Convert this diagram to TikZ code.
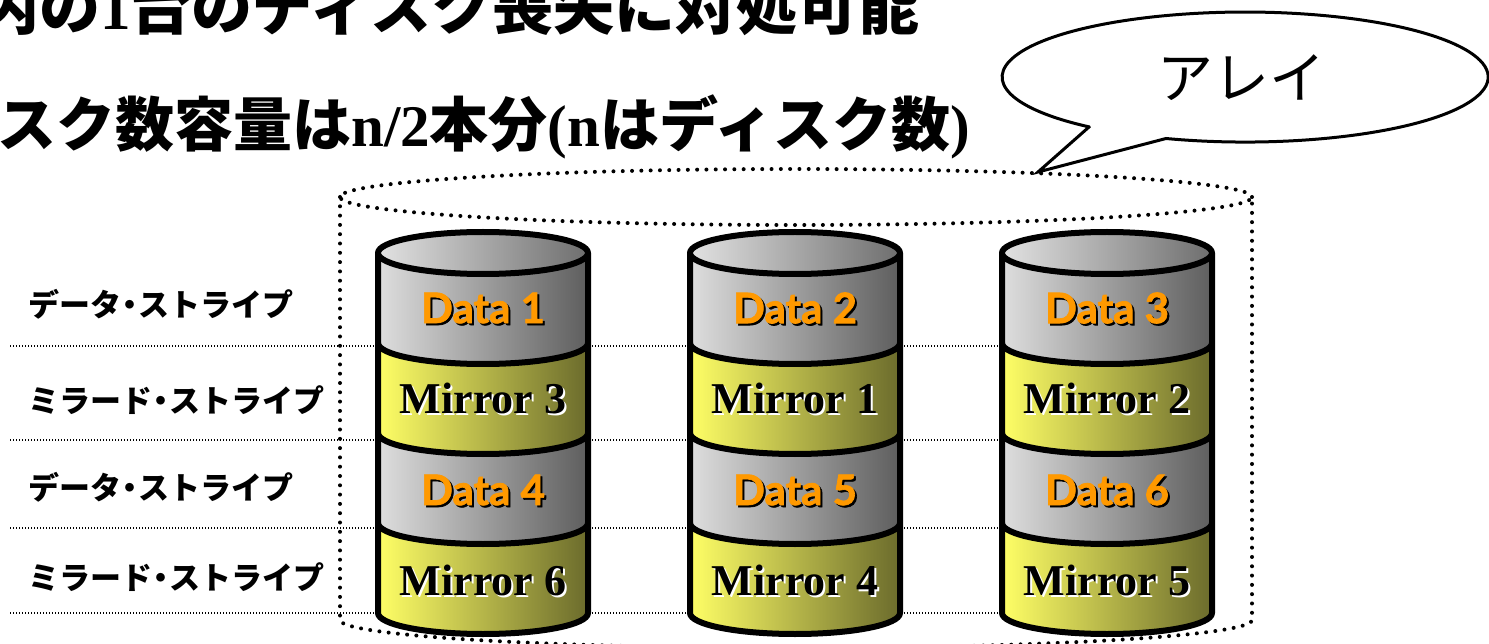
\documentclass[tikz,border=0pt]{standalone}
\usepackage{fontspec}
\newfontfamily\jp{Noto Sans CJK JP}
\newfontfamily\tms{Liberation Serif}
\newfontfamily\gill{Lato}[BoldFeatures={FakeBold=1.6}]
\definecolor{grayL}{HTML}{DEDEDE}
\definecolor{grayR}{HTML}{5E5E5E}
\definecolor{capL}{HTML}{E2E2E2}
\definecolor{capR}{HTML}{6E6E6E}
\definecolor{yelL}{HTML}{FFFF66}
\definecolor{yelM}{HTML}{D4D44E}
\definecolor{yelR}{HTML}{6B6B2C}
\definecolor{dataOrange}{HTML}{FF9900}
\newcommand\nakaguro{\kern-0.22em・\kern-0.22em}
\tikzset{
  graypart/.style={left color=grayL, right color=grayR},
  yelpart/.style={left color=yelL, middle color=yelM, right color=yelR},
  diskline/.style={line width=6pt, line join=round},
  bigdots/.style={line width=4pt, line cap=round, dash pattern=on 0pt off 9.3pt},
  finedots/.style={line width=1.2pt, dash pattern=on 1.2pt off 1.8pt},
  headtext/.style={inner sep=0pt, font=\jp\bfseries\fontsize{59}{64}\selectfont},
  rowlabel/.style={inner sep=0pt, anchor=west, font=\jp\bfseries\fontsize{31}{34}\selectfont},
  datatext/.style={inner sep=0pt, font=\gill\bfseries\fontsize{42}{46}\selectfont},
  mirrortext/.style={inner sep=0pt, font=\tms\bfseries\fontsize{44}{48}\selectfont},
}
\begin{document}
\begin{tikzpicture}[x=1pt, y=1pt]
\clip (0,0) rectangle (1489,-644);

% headline, running off the top and left edges
\node[headtext, anchor=base west, font=\jp\bfseries\fontsize{61}{64}\selectfont] (head1) at (-22,-30)
  {内の{\tms\bfseries 1}台のディスク喪失に対処可能};
\node[headtext, anchor=base west] (head2) at (-3,-147)
  {スク数容量は{\tms\bfseries n/2}本分{\tms\bfseries (n}はディスク数{\tms\bfseries )}};

% stripe separators
\foreach \y [count=\j] in {-346,-440,-528,-613} {
  \coordinate (s\j a) at (10,\y);
  \coordinate (s\j b) at (1002,\y);
  \draw[finedots] (s\j a) -- (s\j b);
}

% stripe names
\node[rowlabel] (lab1) at (28,-304) {データ\nakaguro ストライプ};
\node[rowlabel] (lab2) at (28,-400) {ミラード\nakaguro ストライプ};
\node[rowlabel] (lab3) at (28,-487) {データ\nakaguro ストライプ};
\node[rowlabel] (lab4) at (28,-577) {ミラード\nakaguro ストライプ};

% the array as a dotted cylinder
\draw[bigdots] (796,-197) ellipse [x radius=456, y radius=28];
\draw[bigdots] (340,-197) -- (340,-620)
  arc[start angle=180, end angle=360, x radius=456, y radius=28]
  -- (1252,-197);

% the three disks
\foreach \cx/\da/\ma/\db/\mb [count=\n] in {483/1/3/4/6, 795/2/1/5/4, 1107/3/2/6/5} {
  \foreach \k/\kind in {0/graypart,1/yelpart,2/graypart,3/yelpart} {
    \pgfmathsetmacro\yt{-253-90*\k}
    \pgfmathsetmacro\yb{\yt-90}
    \path[\kind] (\cx-105,\yt) -- (\cx-105,\yb)
      arc[start angle=180, end angle=360, x radius=105, y radius=21]
      -- (\cx+105,\yt)
      arc[start angle=0, end angle=-180, x radius=105, y radius=21] -- cycle;
  }
  % outline: sides, stripe borders, lid
  \draw[diskline] (\cx-105,-253) -- (\cx-105,-613)
    arc[start angle=180, end angle=360, x radius=105, y radius=21]
    -- (\cx+105,-253);
  \foreach \k in {1,2,3} {
    \pgfmathsetmacro\yb{-253-90*\k}
    \draw[diskline] (\cx-105,\yb)
      arc[start angle=180, end angle=360, x radius=105, y radius=21];
  }
  \draw[diskline, left color=capL, right color=capR]
    (\cx,-253) ellipse [x radius=105, y radius=21];

  % stripe contents
  \node[datatext, black] (d\n as) at (\cx+2,-310) {Data \da};
  \node[datatext, text=dataOrange] (d\n a) at (\cx,-308) {Data \da};
  \node[mirrortext, white] (d\n bs) at (\cx+2,-400) {Mirror \ma};
  \node[mirrortext, black] (d\n b) at (\cx,-398) {Mirror \ma};
  \node[datatext, black] (d\n cs) at (\cx+2,-492) {Data \db};
  \node[datatext, text=dataOrange] (d\n c) at (\cx,-490) {Data \db};
  \node[mirrortext, white] (d\n ds) at (\cx+2,-582) {Mirror \mb};
  \node[mirrortext, black] (d\n d) at (\cx,-580) {Mirror \mb};
}

% callout naming the array
\draw[line width=3pt, fill=white, line join=miter]
  (1089,-127) -- (1038,-172) -- (1166,-138.5)
  arc[start angle=251, end angle=590, x radius=243, y radius=65] -- cycle;
\node[inner sep=0pt, font=\jp\fontsize{56}{60}\selectfont] (array) at (1241,-78) {アレイ};
\end{tikzpicture}
\end{document}
